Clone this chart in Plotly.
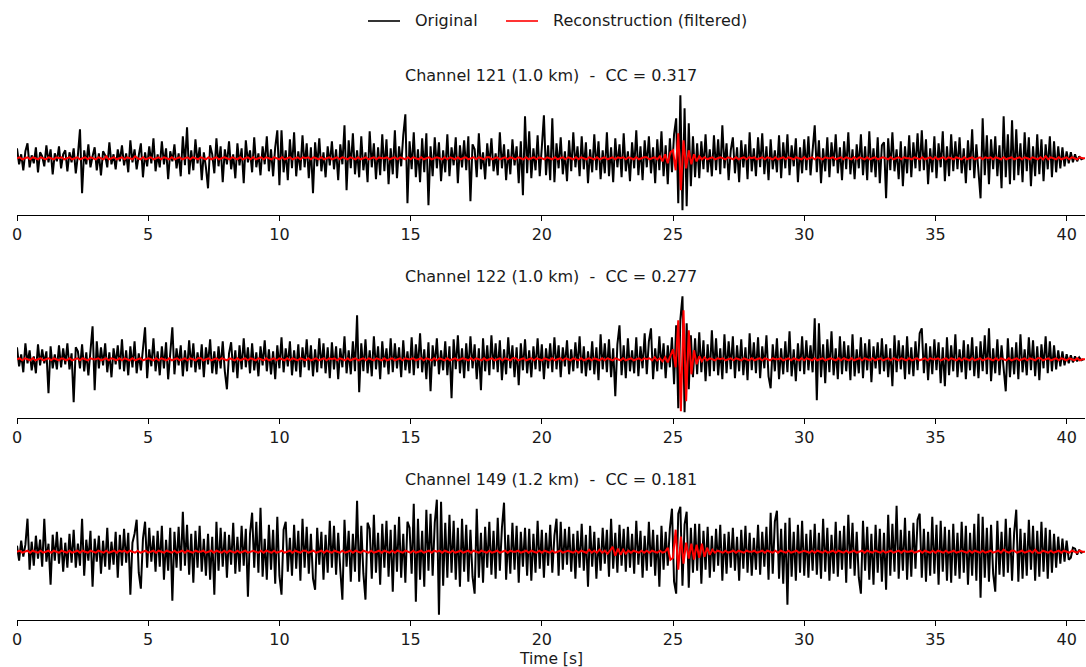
import numpy as np
import plotly.graph_objects as go

# ---------------- data (amplitudes, arbitrary units) ----------------
# Original traces: one sample every 0.08 s (rows of 25 samples = 2 s)
ch121_orig = [
 10,-6,4,-12,7,15,-9,3,-5,11,-14,6,2,-8,13,-4,9,-16,5,-3,12,-10,4,8,-13,
 6,-4,10,-15,3,29,-35,8,-6,14,-9,2,11,-12,5,-17,7,3,-9,16,-6,4,-11,9,-3,
 13,-7,5,-14,18,-4,9,-11,3,15,-19,6,-8,12,-5,20,-13,4,-9,17,-6,10,-21,7,-3,
 14,-10,5,-18,22,-7,31,-16,8,-12,19,-5,11,-22,6,-9,-30,13,4,-15,20,-8,12,-24,9,
 -6,17,-11,4,-20,15,-7,10,-25,18,-4,8,-14,21,-9,5,-17,12,-6,22,-13,9,-18,11,28,
 -27,28,-14,8,-22,19,-10,26,-18,7,-12,23,-9,15,-20,11,-35,16,-8,20,-13,6,-19,12,-7,
 17,-11,9,-22,14,-6,33,-32,18,-10,25,-16,8,-19,22,-12,6,-24,27,-9,15,-21,11,-17,24,
 -13,19,-26,10,-16,28,-20,12,-8,23,44,-45,17,-11,26,-19,9,-24,20,-14,25,-47,12,-18,21,
 -10,16,-23,8,-14,24,-18,11,-7,21,-25,13,-9,18,-12,22,-43,14,9,-19,25,-11,6,-21,15,
 -8,20,-13,5,-17,26,-10,14,-22,9,-16,19,-7,12,-25,17,-37,42,-15,27,-20,10,-12,23,-18,
 11,43,-17,13,-22,40,-24,15,-10,21,-16,7,-23,18,-13,26,-9,12,-18,22,-11,16,-25,9,-14,
 24,-12,17,-21,8,-15,26,-18,11,-24,20,-9,14,-19,25,-13,7,-23,16,-10,28,-17,12,-22,18,
 -9,22,-15,11,-25,19,-12,27,-18,13,-26,20,-14,24,40,-45,63,-52,50,-48,35,-28,22,-19,15,
 -20,17,-11,24,-14,9,-18,23,-12,19,-16,33,-10,15,-22,8,21,-15,11,-24,18,-9,14,-21,26,
 -13,10,-18,21,-9,25,-16,12,-22,19,-11,8,-14,23,-20,16,-10,24,-17,13,-8,20,-24,11,-15,
 19,-12,22,-17,9,33,-14,18,-25,10,-13,21,-19,16,-8,24,-15,11,-22,17,-11,26,-16,9,-21,
 14,-10,24,-17,12,-22,27,-14,10,-19,21,-25,13,16,-40,20,-12,26,-13,9,-21,17,-28,12,-15,
 23,-19,16,-10,25,-13,28,-12,19,-26,10,-14,22,-20,15,-9,27,-23,12,-18,24,-13,17,-11,21,
 -15,10,-25,18,-12,29,-20,14,-16,-40,40,-17,23,-26,19,-11,22,-18,13,-30,42,-19,24,-26,38,
 -22,29,-17,15,-24,26,-13,21,-28,12,-18,24,-16,19,-23,14,-11,22,-19,17,-14,12,-10,11,-8,
 7,-5,6,-4,4,-3,2,-1,0,
]

ch122_orig = [
 12,-7,5,-13,16,-4,9,-11,3,-14,15,-6,10,-4,8,-34,13,-9,5,-10,14,-8,11,-5,16,
 -10,6,-43,12,8,-9,15,-12,7,-16,11,33,-31,18,-9,12,-6,16,-13,7,-18,11,-5,14,-10,
 20,-12,9,-16,13,-8,18,-14,6,-11,15,32,-19,10,-7,21,-12,8,-16,13,-9,17,-20,11,32,
 -15,11,-6,14,-17,9,-12,19,-8,16,-13,7,-10,15,-18,12,-5,20,-14,8,-15,13,-9,18,-12,
 -30,6,17,-13,9,-19,14,-10,21,-8,12,-14,16,-11,7,-17,13,-6,19,-12,10,-15,8,-20,14,
 -9,22,-13,11,-7,18,-16,9,-12,15,-18,12,-8,20,-11,14,-17,10,-13,21,-9,16,-14,12,-19,
 17,-10,13,-20,11,-8,23,-14,9,-15,18,-12,44,-33,16,-12,20,-14,9,-17,23,-10,13,-20,18,
 -8,11,-15,21,-13,16,-9,12,-18,19,-11,8,-14,22,-16,15,-9,26,-13,10,-20,17,-32,14,-7,
 21,-15,9,-11,18,-16,13,-39,20,-10,24,-14,11,-19,16,-12,23,-9,15,-20,11,-31,21,-12,14,
 -16,24,-10,16,-13,19,-21,10,-15,22,-9,14,-18,12,-26,16,-11,20,-14,9,-18,13,-10,21,-12,
 15,-20,11,-9,16,-13,22,-10,14,-18,12,-7,19,-15,10,-12,17,-9,23,-14,13,-17,8,-11,18,
 -15,12,-21,25,-10,16,-13,20,-18,11,-37,15,34,-16,14,-19,21,-12,9,-14,22,-17,13,-9,26,
 -15,18,31,-20,11,-12,23,-10,16,-19,14,-8,22,-25,34,-49,40,63,-53,36,-30,24,-18,21,-15,
 27,-13,19,-22,15,-17,29,-12,21,-16,11,-20,25,-14,18,-10,23,-19,14,-12,20,-16,12,-21,26,
 -11,17,-14,22,-19,13,-9,24,-17,-29,15,-12,21,-20,11,-15,18,-13,28,-17,10,-22,16,-12,23,
 -15,19,-11,14,-13,41,-41,36,-18,15,-24,20,-13,28,-16,11,-20,23,-15,18,-12,14,-21,25,-17,
 10,-14,22,-19,16,-11,20,-23,13,-9,17,-15,21,-12,15,-18,11,-27,24,-13,19,-10,14,-20,23,
 -15,12,-17,18,-11,26,31,-14,16,-21,13,-15,20,-11,17,-24,12,-27,22,-16,14,-12,25,-18,10,
 -13,19,-20,15,-11,22,-17,13,-19,18,-12,24,-15,31,-22,11,-14,20,-16,14,-10,-32,21,-18,12,
 -15,17,-20,25,-13,10,-16,22,-11,19,-17,13,-21,15,-9,23,-14,18,-12,14,-10,9,-7,8,-6,
 5,-4,4,-3,3,-2,2,-1,0,
]

ch149_orig = [
 6,-9,11,-5,7,33,-18,10,-14,16,-7,12,-15,33,-10,8,-33,17,-9,20,-12,14,-20,9,-16,
 18,-11,22,-16,8,-14,33,-24,12,-9,21,-35,13,-10,16,-22,11,-15,24,-18,10,-13,20,-26,17,
 -14,23,-11,19,-43,9,18,32,-21,-37,13,30,-16,24,-10,16,-20,21,-15,26,-28,12,-19,24,-49,
 20,-16,25,-19,40,-14,27,-23,18,-31,21,-16,26,-20,13,-24,18,-28,15,-43,30,-19,24,-15,20,
 -26,17,-13,29,-22,15,-20,26,-14,23,-45,18,39,-16,30,-21,44,-25,13,-28,27,-18,22,-32,35,
 -24,-43,22,30,-20,14,-24,27,-17,21,-29,33,-16,25,-22,18,-27,-38,24,-13,20,-28,17,-21,31,
 -16,26,-23,19,-18,-48,32,-15,21,-30,18,-20,51,-30,26,-22,-48,29,23,-27,37,-21,19,-33,28,
 -16,31,-25,22,-40,27,-20,35,-26,18,-31,30,24,-22,48,-50,33,-28,21,-35,42,-19,38,-24,29,
 52,-63,50,-34,29,-26,37,-21,31,-28,24,-35,33,-20,27,-30,22,-25,-42,43,-26,19,-31,25,-16,
 30,-23,21,-27,34,-19,24,49,-28,17,-22,29,-18,26,-31,20,-15,24,-24,23,-29,18,-21,31,-17,
 22,-26,19,-14,27,-21,16,33,-24,30,-18,23,-13,25,-20,18,-27,21,-16,28,-19,17,-35,26,-15,
 20,-27,14,-19,24,-12,22,-25,33,-17,19,-21,27,-14,23,-20,25,-16,18,-22,31,-13,21,-26,16,
 -19,30,-15,22,-24,17,-35,26,-18,20,-14,23,43,-30,-42,38,45,-34,27,40,-36,24,-21,28,-19,
 28,-32,21,-18,25,-26,16,-20,23,-14,27,-29,18,-22,20,-16,24,-19,15,-29,22,-17,26,-21,19,
 -24,14,-18,27,-23,20,-15,25,-28,39,-22,30,41,-27,23,-32,29,-53,34,-25,20,-29,27,-21,31,
 -24,18,-26,22,-19,28,-23,19,-27,33,-20,24,-29,17,-22,30,-25,21,-18,26,-31,37,-17,29,-24,
 20,-26,-42,31,-19,25,-28,18,-33,27,-21,23,-30,19,-38,37,-24,28,-20,46,-27,22,-19,34,-28,
 21,-25,29,-17,32,38,-26,23,-30,20,-24,35,-22,27,-33,31,-20,25,-29,22,-31,28,-24,19,-27,
 30,-21,26,-33,19,-24,28,-29,38,-46,35,-26,24,-30,27,-22,-40,31,-23,20,-25,33,-21,24,-29,
 19,42,-30,23,-27,19,-24,32,-18,26,-29,21,-25,30,-20,24,-27,22,-21,18,-16,15,-12,13,-10,
 11,-8,-6,4,3,-3,2,-1,0,
]

# Reconstructions: one sample every 0.1 s (rows of 10 samples = 1 s)
ch121_rec = [
 0,1,-1,0,1,-1,1,0,-1,1,      # 0 s
 0,-1,1,0,-1,1,0,1,-1,0,      # 1
 1,-1,0,1,-1,0,1,-1,1,0,      # 2
 -1,1,0,-1,2,-1,0,1,-1,0,     # 3
 1,-1,1,0,-1,2,0,-1,1,-1,     # 4
 0,1,-1,0,1,-1,1,0,-1,1,      # 5
 -1,0,1,-1,0,1,-1,1,0,-1,     # 6
 1,0,-1,1,-1,0,1,-1,0,1,      # 7
 0,-1,1,0,-1,1,-1,0,1,-1,     # 8
 1,-1,0,1,-1,1,0,-1,1,0,      # 9
 -1,1,-1,0,1,-1,0,1,-1,1,     # 10
 0,1,-1,1,0,-1,1,-1,0,1,      # 11
 -1,0,1,-1,1,0,-1,1,0,-1,     # 12
 1,-1,0,1,-1,0,1,-1,1,0,      # 13
 0,1,-1,0,1,-1,1,0,-1,1,      # 14
 -1,1,0,-1,1,-1,0,1,-1,0,     # 15
 1,0,-1,1,-1,1,0,-1,1,-1,     # 16
 0,1,-1,0,1,-1,1,0,-1,1,      # 17
 1,-1,0,1,-1,0,1,-1,1,0,      # 18
 -1,1,0,-1,1,-1,0,1,-1,1,     # 19
 0,-1,1,0,-1,1,-1,0,1,-1,     # 20
 1,0,-1,1,-1,1,0,-1,1,0,      # 21
 -1,1,-1,0,1,-1,0,1,-1,1,     # 22
 0,1,-1,1,0,-1,1,-1,0,1,      # 23
 1,-1,0,1,-1,2,-3,4,-5,6,     # 24
 8,-12,25,-32,18,-10,8,-6,4,-3,  # 25
 2,-1,1,-1,0,1,-1,0,1,0,      # 26
 -1,1,0,-1,1,-1,0,1,-1,1,     # 27
 0,1,-1,0,1,-1,1,0,-1,1,      # 28
 -1,0,1,-1,1,0,-1,1,0,-1,     # 29
 1,-1,0,1,-1,1,0,-1,1,0,      # 30
 0,1,-1,0,1,-1,1,0,-1,1,      # 31
 -1,1,0,-1,1,-1,0,1,-1,0,     # 32
 1,0,-1,1,-1,0,1,-1,1,0,      # 33
 0,-1,1,0,-1,1,-1,0,1,-1,     # 34
 1,-1,0,1,-1,1,0,-1,1,0,      # 35
 -1,1,-1,0,1,-1,0,1,-1,1,     # 36
 0,1,-1,1,0,-1,1,-1,0,1,      # 37
 -1,0,1,-1,1,0,-1,1,0,-1,     # 38
 1,-1,2,-1,1,0,-1,1,-1,0,     # 39
 1,-1,1,0,-1,1,0,0,           # 40
]

ch122_rec = [
 0,1,-1,1,0,-1,1,-1,0,1,      # 0 s
 -1,0,1,-1,1,0,-1,1,0,-1,     # 1
 1,-1,0,1,-1,1,0,-1,1,0,      # 2
 0,1,-1,0,1,-1,1,0,-1,1,      # 3
 -1,1,0,-1,1,-1,0,1,-1,0,     # 4
 1,0,-1,1,-1,1,0,-1,1,-1,     # 5
 0,1,-1,0,1,-1,1,0,-1,1,      # 6
 1,-1,0,1,-1,0,1,-1,1,0,      # 7
 -1,1,0,-1,1,-1,0,1,-1,1,     # 8
 0,-1,1,0,-1,1,-1,0,1,-1,     # 9
 1,0,-1,1,-1,1,0,-1,1,0,      # 10
 -1,1,-1,0,1,-1,0,1,-1,1,     # 11
 0,1,-1,1,0,-1,1,-1,0,1,      # 12
 -1,0,1,-1,1,0,-1,1,0,-1,     # 13
 1,-1,0,1,-1,0,1,-1,1,0,      # 14
 0,1,-1,0,1,-1,1,0,-1,1,      # 15
 -1,1,0,-1,1,-1,0,1,-1,0,     # 16
 1,0,-1,1,-1,1,0,-1,1,-1,     # 17
 0,1,-1,0,1,-1,1,0,-1,1,      # 18
 1,-1,0,1,-1,0,1,-1,1,0,      # 19
 -1,1,0,-1,1,-1,0,1,-1,1,     # 20
 0,-1,1,0,-1,1,-1,0,1,-1,     # 21
 1,0,-1,1,-1,1,0,-1,1,0,      # 22
 -1,1,-1,0,1,-1,0,1,-1,1,     # 23
 0,1,-1,2,-1,1,-2,2,-3,4,     # 24
 10,-8,39,-52,49,-42,29,-15,9,-5,  # 25
 3,-2,2,-1,1,0,-1,1,0,1,      # 26
 -1,0,1,-1,1,0,-1,1,0,-1,     # 27
 1,-1,0,1,-1,1,0,-1,1,0,      # 28
 0,1,-1,0,1,-1,1,0,-1,1,      # 29
 -1,1,0,-1,1,-1,0,1,-1,0,     # 30
 1,0,-1,1,-1,1,0,-1,1,-1,     # 31
 0,1,-1,1,0,-1,1,-1,0,1,      # 32
 -1,0,1,-1,1,0,-1,1,0,-1,     # 33
 1,-1,0,1,-1,0,1,-1,1,0,      # 34
 0,1,-1,0,1,-1,1,0,-1,1,      # 35
 -1,1,0,-1,1,-1,0,1,-1,0,     # 36
 1,0,-1,1,-1,1,0,-1,1,-1,     # 37
 0,1,-1,0,1,-1,1,0,-1,1,      # 38
 1,-1,0,1,-1,0,1,-1,1,0,      # 39
 -1,1,0,-1,1,-1,0,0,          # 40
]

ch149_rec = [
 0,1,-1,0,1,-1,1,0,-1,1,      # 0 s
 -1,0,1,-1,1,0,-1,1,0,-1,     # 1
 1,-1,0,1,-1,1,0,-1,1,0,      # 2
 -1,1,0,-1,1,-1,0,1,-1,1,     # 3
 0,1,-1,1,0,-1,1,-1,0,1,      # 4
 -1,0,1,-1,1,0,-1,1,0,-1,     # 5
 1,-1,0,1,-1,1,0,-1,1,0,      # 6
 0,1,-1,0,1,-1,1,0,-1,1,      # 7
 -1,1,0,-1,1,-1,0,1,-1,0,     # 8
 1,0,-1,1,-1,1,0,-1,1,-1,     # 9
 0,1,-1,0,1,-1,1,0,-1,1,      # 10
 1,-1,0,1,-1,0,1,-1,1,0,      # 11
 -1,1,0,-1,1,-1,0,1,-1,1,     # 12
 0,-1,1,0,-1,1,-1,0,1,-1,     # 13
 1,0,-1,1,-1,1,0,-1,1,0,      # 14
 -1,1,-1,0,1,-1,0,1,-1,1,     # 15
 0,1,-1,1,0,-1,1,-1,0,1,      # 16
 -1,0,1,-1,1,0,-1,1,0,-1,     # 17
 1,-1,0,1,-1,0,1,-1,1,0,      # 18
 0,1,-1,0,1,-1,1,0,-1,1,      # 19
 -1,1,0,-1,1,-1,0,1,-1,0,     # 20
 1,0,-1,1,-1,1,0,-1,2,-1,     # 21
 1,-1,2,-1,1,-2,1,5,-4,3,     # 22
 -3,2,-2,1,-1,1,0,-1,1,-1,    # 23
 1,-1,1,0,-1,1,-1,0,4,-8,     # 24
 -6,22,-18,15,-12,9,-7,8,-8,7,  # 25
 -6,8,-5,4,-3,2,-1,1,0,-1,    # 26
 1,-1,0,1,-1,1,0,-1,1,0,      # 27
 0,1,-1,0,1,-1,1,0,-1,1,      # 28
 -1,1,0,-1,1,-1,0,1,-1,0,     # 29
 1,0,-1,1,-1,1,0,-1,1,-1,     # 30
 0,1,-1,1,0,-1,1,-1,0,1,      # 31
 -1,0,1,-1,1,0,-1,1,0,-1,     # 32
 1,-1,0,1,-1,0,1,-1,1,0,      # 33
 0,1,-1,0,1,-1,1,0,-1,1,      # 34
 -1,1,0,-1,1,-1,0,1,-1,0,     # 35
 1,0,-1,1,-1,1,0,-1,1,-1,     # 36
 0,1,-1,0,1,-1,2,0,-1,1,      # 37
 1,-1,0,1,-1,0,1,-1,2,-1,     # 38
 -1,1,0,-1,1,-1,0,1,-1,1,     # 39
 0,-1,1,0,-1,1,0,0,           # 40
]

dt_orig = 0.08
dt_rec = 0.1
titles = ["Channel 121 (1.0 km)  -  CC = 0.317",
          "Channel 122 (1.0 km)  -  CC = 0.277",
          "Channel 149 (1.2 km)  -  CC = 0.181"]
legend_names = ["Original", "Reconstruction (filtered)"]
x_ticks = [0, 5, 10, 15, 20, 25, 30, 35, 40]
x_range = [0, 40.7]

# ---------------- layout geometry (pixels in a 1086x667 figure) ----------------
W, H = 1086, 667
ML, MR = 17, 1
panels = [  # (top px, bottom px, y-range)
    (89, 215, [-56.7, 69.3]),
    (291, 418, [-58.7, 68.3]),
    (494, 620, [-68.3, 57.7]),
]
title_px = [75, 277, 479]

def fy(px):
    return 1 - px / H

def fx(px):
    return (px - ML) / (W - ML - MR)

FONT = "DejaVu Sans"
FS = 16
TXT = "#1a1a1a"
COLORS = ["black", "#ff0000"]
LW = 2.0
orig = [ch121_orig, ch122_orig, ch149_orig]
rec = [ch121_rec, ch122_rec, ch149_rec]

fig = go.Figure()
for i in range(3):
    xa = "x" if i == 0 else f"x{i+1}"
    ya = "y" if i == 0 else f"y{i+1}"
    t_o = np.round(np.arange(len(orig[i])) * dt_orig, 3)
    t_r = np.round(np.arange(len(rec[i])) * dt_rec, 3)
    fig.add_trace(go.Scatter(x=t_o, y=orig[i], mode="lines", name=legend_names[0],
                             line=dict(color=COLORS[0], width=LW), xaxis=xa, yaxis=ya,
                             showlegend=False))
    fig.add_trace(go.Scatter(x=t_r, y=rec[i], mode="lines", name=legend_names[1],
                             line=dict(color=COLORS[1], width=LW), xaxis=xa, yaxis=ya,
                             showlegend=False))

layout = dict(
    width=W, height=H,
    margin=dict(l=ML, r=MR, t=0, b=0),
    paper_bgcolor="white", plot_bgcolor="white",
    font=dict(family=FONT, size=FS, color=TXT),
    showlegend=False,
    annotations=[], shapes=[],
)
for i, (top, bot, yr) in enumerate(panels):
    xk = "xaxis" if i == 0 else f"xaxis{i+1}"
    yk = "yaxis" if i == 0 else f"yaxis{i+1}"
    ya = "y" if i == 0 else f"y{i+1}"
    xa = "x" if i == 0 else f"x{i+1}"
    layout[xk] = dict(domain=[0, 1], anchor=ya, range=x_range, tickvals=x_ticks,
                      ticktext=[str(v) for v in x_ticks],
                      showline=True, linecolor="black", linewidth=1, mirror=False,
                      ticks="outside", ticklen=5, tickwidth=1, tickcolor="black",
                      showgrid=False, zeroline=False,
                      tickfont=dict(family=FONT, size=FS, color=TXT))
    layout[yk] = dict(domain=[fy(bot), fy(top)], anchor=xa, range=yr, visible=False,
                      showgrid=False, zeroline=False)
    layout["annotations"].append(dict(text=titles[i], x=0.5, xref="paper", y=fy(title_px[i]),
                                      yref="paper", xanchor="center", yanchor="middle",
                                      showarrow=False, font=dict(family=FONT, size=FS, color=TXT)))
layout["annotations"].append(dict(text="Time [s]", x=0.5, xref="paper", y=fy(658.5), yref="paper",
                                  xanchor="center", yanchor="middle", showarrow=False,
                                  font=dict(family=FONT, size=15.5, color=TXT)))

# legend (drawn as line samples + labels, laid out like the reference)
leg_items = [(368, 400, 413), (506, 538, 551)]
for (x0, x1, xt), name, col in zip(leg_items, legend_names, COLORS):
    layout["shapes"].append(dict(type="line", xref="paper", yref="paper",
                                 x0=fx(x0), x1=fx(x1), y0=fy(21), y1=fy(21),
                                 line=dict(color=col, width=1.6)))
    layout["annotations"].append(dict(text=name, x=fx(xt), xref="paper", y=fy(21), yref="paper",
                                      xanchor="left", yanchor="middle", showarrow=False,
                                      font=dict(family=FONT, size=FS, color=TXT)))
fig.update_layout(**layout)
fig.write_html("out.html")
